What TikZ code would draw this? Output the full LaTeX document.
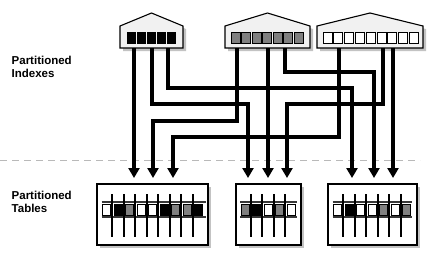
\documentclass[tikz,border=0pt]{standalone}
\usepackage{fontspec}
\setmainfont{Liberation Sans}
\usetikzlibrary{arrows.meta, positioning}
\definecolor{cellgray}{RGB}{128,128,128}
\definecolor{shadowgray}{RGB}{195,195,195}
\definecolor{housefill}{RGB}{241,241,241}
\definecolor{stripgray}{RGB}{55,55,55}

\tikzset{
  conn/.style={line width=3.4pt, -{Triangle[length=10pt,width=11pt]}},
  tablebox/.style={draw=black, line width=1.4pt, fill=white, inner sep=0pt},
  housebox/.style={draw=black, line width=1.1pt, fill=housefill},
  lbl/.style={font=\fontsize{11.5}{12.7}\selectfont\bfseries, align=left, anchor=base west, inner sep=0pt},
  cell/.style={draw=black, line width=0.8pt},
  strip/.style={draw=stripgray, line width=2pt},
  tbar/.style={draw=black, line width=2pt},
}

\begin{document}
\begin{tikzpicture}[x=1pt, y=-1pt]
\useasboundingbox (0,0) rectangle (428,252);

% Labels
\node[lbl] (lblidx) at (11.5,77.3) {Partitioned\\Indexes};
\node[lbl] (lbltab) at (11.5,212.3) {Partitioned\\Tables};

% Divider
\draw[gray!55, line width=1pt, dash pattern=on 7pt off 5pt] (0,160) -- (420,160);

% Index 1 (black cells)
\fill[shadowgray] (123,29) -- (154.5,16) -- (186,29) -- (186,51) -- (123,51) -- cycle;
\draw[housebox] (120,26) -- (151.5,13) -- (183,26) -- (183,48) -- (120,48) -- cycle;
\foreach \i in {0,...,4}
    \draw[cell, fill=black] (127+\i*10,32) rectangle ++(8.5,11);

% Index 2 (gray cells)
\fill[shadowgray] (228,29) -- (270.5,16) -- (313,29) -- (313,51) -- (228,51) -- cycle;
\draw[housebox] (225,26) -- (267.5,13) -- (310,26) -- (310,48) -- (225,48) -- cycle;
\foreach \i in {0,...,6}
    \draw[cell, fill=cellgray] (231+\i*10.5,32) rectangle ++(9,11);

% Index 3 (white cells)
\fill[shadowgray] (320,29) -- (373,16) -- (426,29) -- (426,51) -- (320,51) -- cycle;
\draw[housebox] (317,26) -- (370,13) -- (423,26) -- (423,48) -- (317,48) -- cycle;
\foreach \i in {0,...,8}
    \draw[cell, fill=white] (323+\i*10.8,32) rectangle ++(9,11);

% Tables
\fill[shadowgray] (100,187) rectangle (211,248);
\node[tablebox, minimum width=111pt, minimum height=61pt] (t1) at (152.5,214.5) {};
\fill[shadowgray] (239,187) rectangle (304,248);
\node[tablebox, minimum width=65pt, minimum height=61pt] (t2) at (268.5,214.5) {};
\fill[shadowgray] (331,187) rectangle (420,248);
\node[tablebox, minimum width=89pt, minimum height=61pt] (t3) at (372.5,214.5) {};

% Table 1 partitions
\draw[strip] (101.5,202) -- (205.5,202) (101.5,217) -- (205.5,217);
\foreach \f [count=\i from 0] in {white,black,cellgray,white,white,black,cellgray,cellgray,black}
    \draw[cell, fill=\f] (102.5+\i*11.5,204) rectangle ++(8,11);
\foreach \i in {1,...,8}
    \draw[tbar] (100.75+\i*11.5,194) -- ++(0,43);

% Table 2 partitions
\draw[strip] (240,202) -- (296.5,202) (240,217) -- (296.5,217);
\foreach \f [count=\i from 0] in {cellgray,black,white,cellgray,white}
    \draw[cell, fill=\f] (241+\i*11.5,204) rectangle ++(8,11);
\foreach \i in {1,...,4}
    \draw[tbar] (239.25+\i*11.5,194) -- ++(0,43);

% Table 3 partitions
\draw[strip] (332.5,202) -- (411.5,202) (332.5,217) -- (411.5,217);
\foreach \f [count=\i from 0] in {white,black,white,white,cellgray,white,cellgray}
    \draw[cell, fill=\f] (333.5+\i*11.5,204) rectangle ++(8,11);
\foreach \i in {1,...,6}
    \draw[tbar] (331.75+\i*11.5,194) -- ++(0,43);

% Index legs
\coordinate (i1a) at (134,48);
\coordinate (i1b) at (152,48);
\coordinate (i1c) at (168,48);
\coordinate (i2a) at (237,48);
\coordinate (i2b) at (268,48);
\coordinate (i2c) at (285,48);
\coordinate (i3a) at (339,48);
\coordinate (i3b) at (383,48);
\coordinate (i3c) at (393,48);

% Table entry points
\coordinate (t1a) at (134,178);
\coordinate (t1b) at (153,178);
\coordinate (t1c) at (173,178);
\coordinate (t2a) at (248,178);
\coordinate (t2b) at (268,178);
\coordinate (t2c) at (287,178);
\coordinate (t3a) at (352,178);
\coordinate (t3b) at (374,178);
\coordinate (t3c) at (393,178);

% Connectors
\draw[conn] (i1a) -- (t1a);
\draw[conn] (i1b) -- ++(0,56) -| (t2a);
\draw[conn] (i1c) -- ++(0,40) -| (t3a);
\draw[conn] (i2a) -- ++(0,73) -| (t1b);
\draw[conn] (i2b) -- (t2b);
\draw[conn] (i2c) -- ++(0,24) -| (t3b);
\draw[conn] (i3a) -- ++(0,89) -| (t1c);
\draw[conn] (i3b) -- ++(0,56) -| (t2c);
\draw[conn] (i3c) -- (t3c);
\end{tikzpicture}
\end{document}
